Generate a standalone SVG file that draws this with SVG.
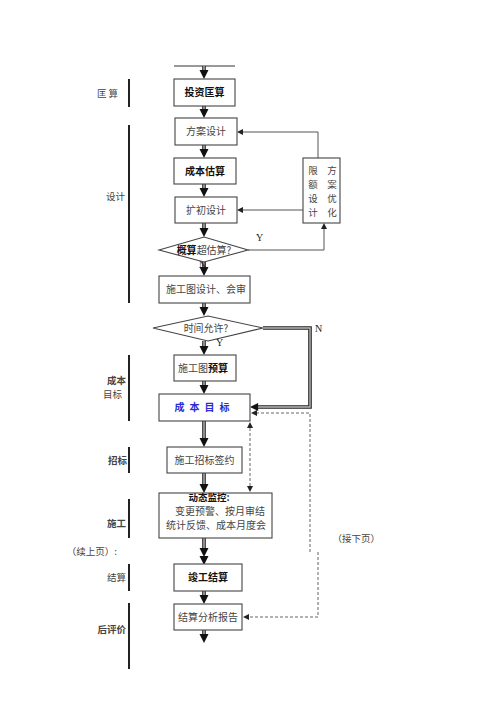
<svg xmlns="http://www.w3.org/2000/svg" width="500" height="707" viewBox="0 0 500 707">
<defs>
<style>
.box{fill:#fff;stroke:#444;stroke-width:1.1}
.t{font-family:"Noto Sans CJK SC","Noto Sans",sans-serif;font-size:10px;fill:#444;text-anchor:middle}
.b{font-weight:bold;fill:#111}
.lbl{font-family:"Noto Sans CJK SC","Noto Sans",sans-serif;font-size:9.5px;fill:#444;text-anchor:end}
.bar{stroke:#222;stroke-width:2}
.so{stroke:#222;stroke-width:3.6;fill:none}
.si{stroke:#bbb;stroke-width:1.4;fill:none}
.thin{stroke:#555;stroke-width:1;fill:none}
.dash{stroke:#666;stroke-width:1;fill:none;stroke-dasharray:3,2}
.lat{font-family:"Liberation Serif",serif;font-size:10px;fill:#222}
.v{font-size:9.5px}
</style>
<path id="hd" d="M0,0 L-4.5,-9 L4.5,-9 Z" fill="#111"/>
<path id="hs" d="M0,0 L-3,-6 L3,-6 Z" fill="#222"/>
</defs>

<g id="left-labels">
<line class="bar" x1="129" y1="79" x2="129" y2="107"/>
<text class="lbl" x="120" y="97" letter-spacing="2">匡算</text>
<line class="bar" x1="129" y1="125" x2="129" y2="303"/>
<text class="lbl" x="125" y="200">设计</text>
<line class="bar" x1="129" y1="355" x2="129" y2="421"/>
<text class="lbl b" x="126" y="384">成本</text>
<text class="lbl" x="122" y="398">目标</text>
<line class="bar" x1="129" y1="447" x2="129" y2="473"/>
<text class="lbl b" x="127" y="464">招标</text>
<line class="bar" x1="129" y1="499" x2="129" y2="538"/>
<text class="lbl b" x="126" y="527">施工</text>
<text class="lbl" x="117" y="555" font-size="9">（续上页）:</text>
<line class="bar" x1="129" y1="564" x2="129" y2="591"/>
<text class="lbl" x="126" y="581">结算</text>
<line class="bar" x1="129" y1="603" x2="129" y2="669"/>
<text class="lbl b" x="126" y="633">后评价</text>
<text class="lbl" x="380" y="542" font-size="9">（接下页）</text>
</g>

<g id="connectors">
<line x1="174" y1="66" x2="235" y2="66" stroke="#333" stroke-width="1"/>
<g>
<path class="so" d="M204,66V71 M204,106V110 M204,145V150 M204,184V189 M204,223V229 M204,262V268 M204,303V308 M204,341V347 M204,381V386 M204,421V439 M204,473V485 M204,538V550 M204,591V596 M204,630V634"/>
<path class="si" d="M204,66V71 M204,106V110 M204,145V150 M204,184V189 M204,223V229 M204,262V268 M204,303V308 M204,341V347 M204,381V386 M204,421V439 M204,473V485 M204,538V550 M204,591V596 M204,630V634"/>
<use href="#hd" x="204" y="79"/>
<use href="#hd" x="204" y="118"/>
<use href="#hd" x="204" y="158"/>
<use href="#hd" x="204" y="197"/>
<use href="#hd" x="204" y="237"/>
<use href="#hd" x="204" y="276"/>
<use href="#hd" x="204" y="316"/>
<use href="#hd" x="204" y="355"/>
<use href="#hd" x="204" y="394"/>
<use href="#hd" x="204" y="447"/>
<use href="#hd" x="204" y="493"/>
<use href="#hd" x="204" y="557"/>
<use href="#hd" x="204" y="565"/>
<use href="#hd" x="204" y="604"/>
<use href="#hd" x="204" y="643"/>
</g>
<path class="thin" d="M318,158V132H243"/>
<use href="#hs" transform="translate(237,132) rotate(90)"/>
<path class="thin" d="M303,210H243"/>
<use href="#hs" transform="translate(237,210) rotate(90)"/>
<path class="thin" d="M248,250H324V229"/>
<use href="#hs" transform="translate(324,223) rotate(180)"/>
<path class="so" d="M263,328H310V407H258" stroke-width="3.4"/>
<path class="si" d="M263,328H310V407H258" stroke="#ccc" stroke-width="1.4"/>
<use href="#hd" transform="translate(250,407) rotate(90) scale(0.9)"/>
<path class="dash" d="M256,413H310V552"/>
<use href="#hs" transform="translate(251,413) rotate(90)"/>
<path class="dash" d="M318,552V617H248"/>
<use href="#hs" transform="translate(243,617) rotate(90)"/>
<path class="dash" d="M250,428V486"/>
<use href="#hs" transform="translate(250,422) rotate(180)"/>
<use href="#hs" x="250" y="492"/>
<text class="lat" x="256" y="241">Y</text>
<text class="lat" x="199" y="268" font-size="9">N</text>
<text class="lat" x="315" y="332">N</text>
<text class="lat" x="216" y="346">Y</text>
</g>

<g id="n-touzi"><rect class="box" x="174" y="79" width="61" height="27"/><text class="t b" x="204.5" y="96">投资匡算</text></g>
<g id="n-fangan"><rect class="box" x="175" y="118" width="62" height="27"/><text class="t" x="206" y="135">方案设计</text></g>
<g id="n-guSuan"><rect class="box" x="174" y="158" width="62" height="26"/><text class="t b" x="205" y="175">成本估算</text></g>
<g id="n-kuochu"><rect class="box" x="175" y="197" width="62" height="26"/><text class="t" x="206" y="214">扩初设计</text></g>
<g id="n-xiane"><rect class="box" x="303" y="158" width="37" height="65"/>
<text class="t v" x="313" y="174">限</text><text class="t v" x="313" y="188">额</text><text class="t v" x="313" y="202">设</text><text class="t v" x="313" y="216">计</text>
<text class="t v" x="332" y="174">方</text><text class="t v" x="332" y="188">案</text><text class="t v" x="332" y="202">优</text><text class="t v" x="332" y="216">化</text></g>
<g id="n-gaisuan"><polygon class="box" points="159,250 204,237 248,250 204,262"/><text class="t" x="204" y="254"><tspan class="b">概算</tspan>超估算?</text></g>
<g id="n-shigongtu"><rect class="box" x="159" y="276" width="91" height="27"/><text class="t" x="206" y="293">施工图设计、会审</text></g>
<g id="n-shijian"><polygon class="box" points="153,328 208,316 263,328 208,341"/><text class="t" x="206" y="332">时间允许?</text></g>
<g id="n-yusuan"><rect class="box" x="174" y="355" width="62" height="26"/><text class="t" x="203" y="372">施工图<tspan class="b">预算</tspan></text></g>
<g id="n-mubiao"><rect class="box" x="159" y="394" width="91" height="27"/><text class="t b" x="204.5" y="411" style="fill:#2b2bd6" letter-spacing="5">成本目标</text></g>
<g id="n-zhaobiao"><rect class="box" x="167" y="447" width="75" height="26"/><text class="t" x="204.5" y="464">施工招标签约</text></g>
<g id="n-dongtai"><rect class="box" x="159" y="493" width="113" height="45"/>
<text class="t b v" x="209" y="501">动态监控:</text>
<text class="t" x="220" y="515" font-size="9.5">变更预警、按月审结</text>
<text class="t" x="216" y="529" font-size="9.5">统计反馈、成本月度会</text></g>
<g id="n-jungong"><rect class="box" x="174" y="564" width="68" height="27"/><text class="t b" x="208" y="581">竣工结算</text></g>
<g id="n-fenxi"><rect class="box" x="174" y="604" width="68" height="26"/><text class="t" x="208" y="621">结算分析报告</text></g>
</svg>
